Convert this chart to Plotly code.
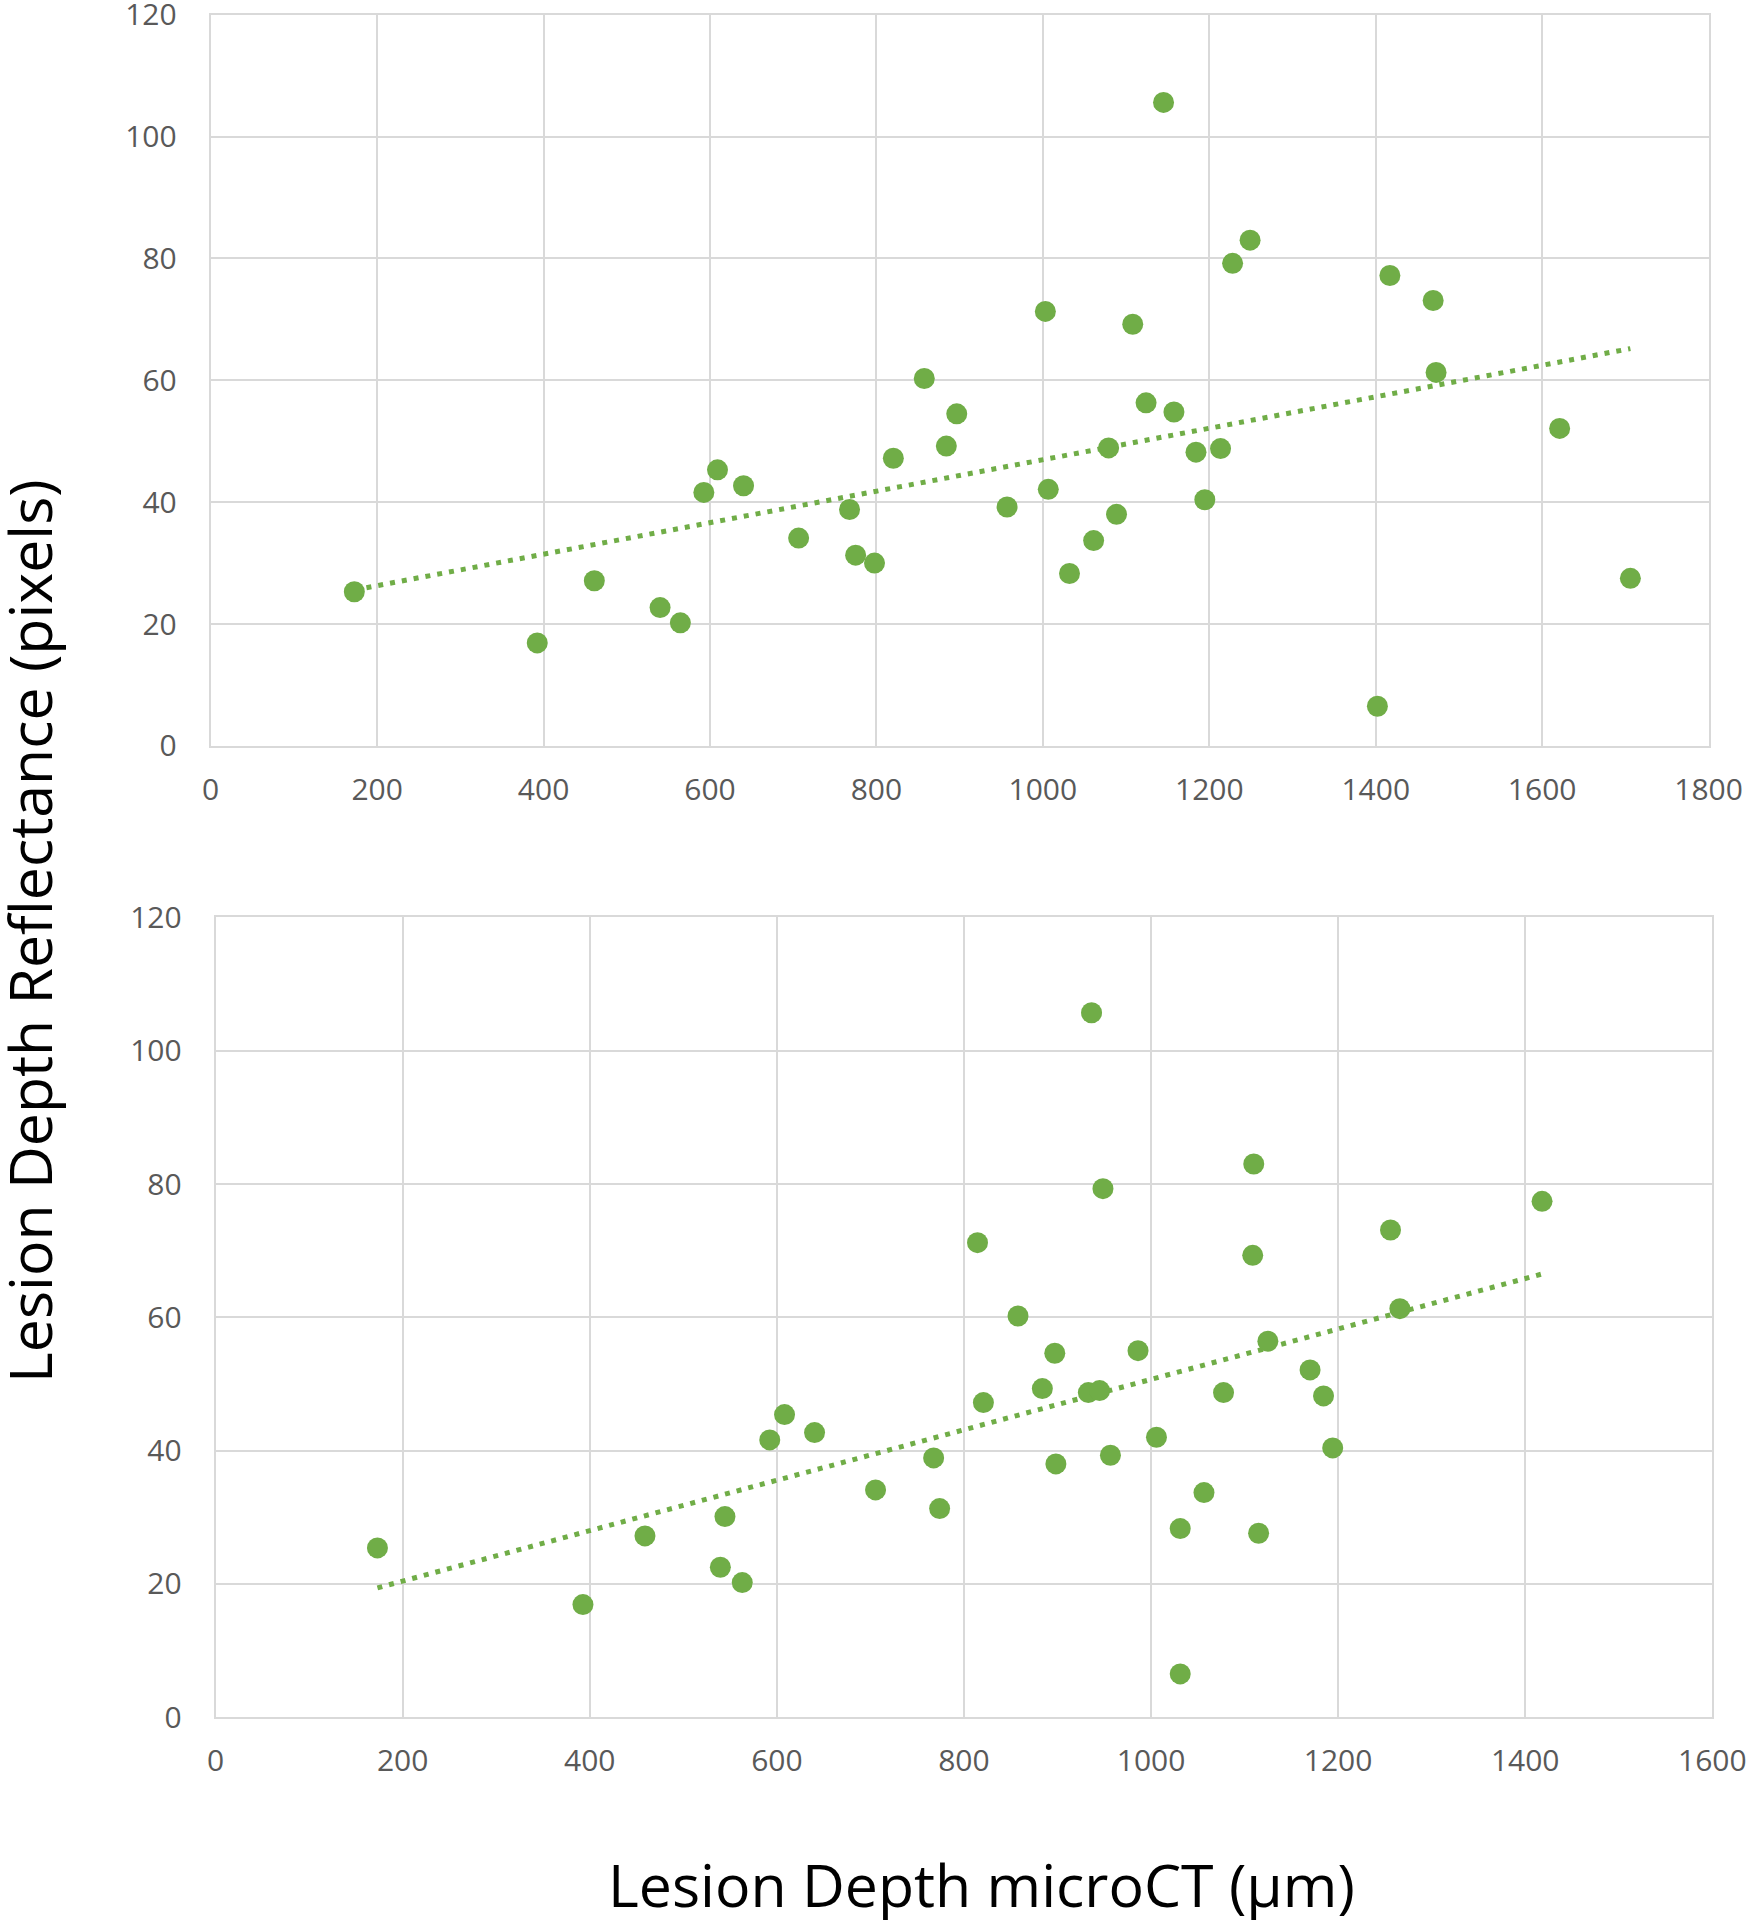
import plotly.graph_objects as go

# ---- data ----
top_x = [172.6, 392.4, 461, 540, 564.4, 592.6, 609, 640.3, 706.5, 767.7, 775, 797.7, 820.3,
         857.5, 884, 896.5, 957, 1003, 1006.5, 1032, 1061, 1079, 1088.5, 1108, 1124, 1145,
         1157.5, 1184, 1194.6, 1213.5, 1228, 1249, 1402, 1417, 1469, 1472.5, 1621, 1706]
top_y = [25.3, 16.9, 27.1, 22.7, 20.2, 41.6, 45.3, 42.7, 34.1, 38.8, 31.3, 30.0, 47.2,
         60.3, 49.2, 54.5, 39.2, 71.3, 42.1, 28.3, 33.7, 48.9, 38.0, 69.2, 56.3, 105.6,
         54.8, 48.2, 40.4, 48.8, 79.2, 83.0, 6.5, 77.2, 73.1, 61.3, 52.1, 27.5]
top_trend_x = [173, 1706]
top_trend_y = [25.6, 65.2]

bot_x = [173, 392.7, 459, 539.6, 544.5, 563, 592.4, 608.2, 640.3, 705.5, 767.6, 774, 814.5,
         820.8, 857.8, 883.8, 897.1, 898.3, 933, 936.4, 945, 948.6, 956.6, 986.1, 1005.8,
         1031.2, 1031.2, 1056.6, 1077.5, 1108.7, 1109.8, 1115, 1124.9, 1170, 1184.4, 1194.2,
         1256, 1266, 1418]
bot_y = [25.4, 16.9, 27.2, 22.5, 30.1, 20.2, 41.6, 45.4, 42.7, 34.1, 38.9, 31.3, 71.2,
         47.2, 60.2, 49.3, 54.6, 38.0, 48.7, 105.7, 49.0, 79.3, 39.3, 55.0, 42.0,
         28.3, 6.5, 33.7, 48.7, 69.3, 83.0, 27.6, 56.4, 52.1, 48.2, 40.4,
         73.1, 61.3, 77.4]
bot_trend_x = [173, 1418]
bot_trend_y = [19.4, 66.5]

top_xticks = [0, 200, 400, 600, 800, 1000, 1200, 1400, 1600, 1800]
bot_xticks = [0, 200, 400, 600, 800, 1000, 1200, 1400, 1600]
yticks = [0, 20, 40, 60, 80, 100, 120]

x_title = "Lesion Depth microCT (µm)"
y_title = "Lesion Depth Reflectance (pixels)"

# ---- style ----
GREEN = "#70AD47"
GRID = "#D9D9D9"
TICKC = "#595959"
FONT = "Open Sans"
W, H = 1749, 1920

fig = go.Figure()
fig.add_trace(go.Scatter(x=top_trend_x, y=top_trend_y, mode="lines",
                         line=dict(color=GREEN, width=5, dash="5px,7px"),
                         xaxis="x", yaxis="y", showlegend=False))
fig.add_trace(go.Scatter(x=top_x, y=top_y, mode="markers",
                         marker=dict(color=GREEN, size=21, line=dict(width=0)),
                         xaxis="x", yaxis="y", showlegend=False))
fig.add_trace(go.Scatter(x=bot_trend_x, y=bot_trend_y, mode="lines",
                         line=dict(color=GREEN, width=5, dash="5px,7px"),
                         xaxis="x2", yaxis="y2", showlegend=False))
fig.add_trace(go.Scatter(x=bot_x, y=bot_y, mode="markers",
                         marker=dict(color=GREEN, size=21, line=dict(width=0)),
                         xaxis="x2", yaxis="y2", showlegend=False))

def px_dom_x(a, b):
    return [a / W, b / W]

def px_dom_y(top, bottom):
    return [1 - bottom / H, 1 - top / H]

axis_common = dict(showgrid=True, gridcolor=GRID, gridwidth=2,
                   showline=True, mirror=True, linecolor=GRID, linewidth=2,
                   zeroline=False, ticks="", automargin=False,
                   ticklabeloverflow="allow",
                   tickfont=dict(family=FONT, size=30, color=TICKC))

fig.update_layout(
    width=W, height=H,
    margin=dict(l=0, r=0, t=0, b=0),
    paper_bgcolor="white", plot_bgcolor="white",
    xaxis=dict(domain=px_dom_x(210.7, 1708.6), range=[0, 1800], tickvals=top_xticks,
               anchor="y", ticklabelstandoff=16, **axis_common),
    yaxis=dict(domain=px_dom_y(14.7, 745.9), range=[0, 120], tickvals=yticks,
               anchor="x", ticklabelstandoff=26, **axis_common),
    xaxis2=dict(domain=px_dom_x(215.6, 1712.3), range=[0, 1600], tickvals=bot_xticks,
                anchor="y2", ticklabelstandoff=16, **axis_common),
    yaxis2=dict(domain=px_dom_y(917.4, 1717.2), range=[0, 120], tickvals=yticks,
                anchor="x2", ticklabelstandoff=26, **axis_common),
    annotations=[
        dict(text=x_title, xref="paper", yref="paper", x=981 / W, y=1 - 1884 / H,
             xanchor="center", yanchor="middle", showarrow=False,
             font=dict(family=FONT, size=59, color="#000000")),
        dict(text=y_title, xref="paper", yref="paper", x=29 / W, y=1 - 931 / H,
             xanchor="center", yanchor="middle", showarrow=False, textangle=-90,
             font=dict(family=FONT, size=59, color="#000000")),
    ],
)

fig.write_html("out.html", config={"displayModeBar": False},
               post_script="document.body.style.margin='0';document.body.style.padding='0';"
                           "document.body.style.overflow='hidden';")
